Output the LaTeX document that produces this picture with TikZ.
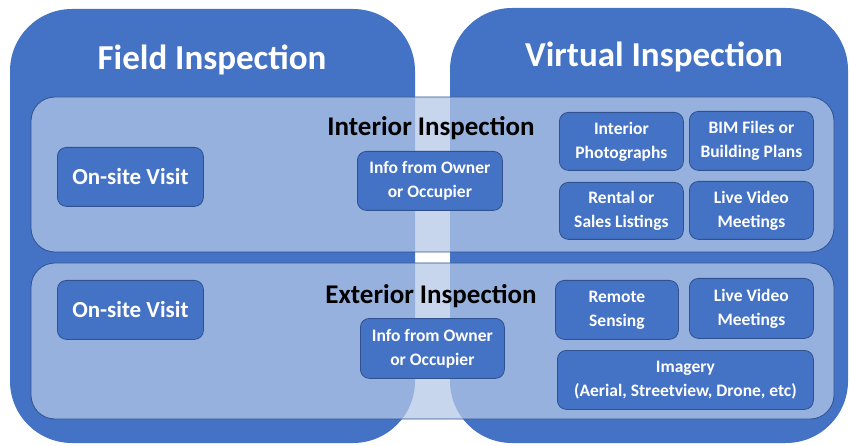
\documentclass[tikz,border=0pt]{standalone}
\usepackage{fontspec}
\setmainfont{Carlito}
\definecolor{mblue}{HTML}{4472C4}
\definecolor{dblue}{HTML}{2F528F}
\definecolor{lblue}{HTML}{B4C7E7}
\begin{document}
\begin{tikzpicture}[x=1pt,y=-1pt,
  big/.style={fill=mblue, draw=none, rounded corners=62pt, anchor=north west, inner sep=0pt, outer sep=0pt},
  band/.style={fill=lblue, fill opacity=0.75, draw=dblue, line width=0.8pt, rounded corners=24pt, anchor=north west, inner sep=0pt, outer sep=0pt},
  item/.style={fill=mblue, draw=dblue, line width=0.8pt, rounded corners=9pt, anchor=north west, inner sep=0pt, text=white, font=\bfseries\fontsize{17.5}{24}\selectfont, align=center},
  bigitem/.style={item, font=\bfseries\fontsize{23}{26}\selectfont},
  title/.style={text=white, font=\bfseries\fontsize{35}{40}\selectfont, inner sep=0pt},
  sub/.style={text=black, font=\bfseries\fontsize{27}{32}\selectfont, inner sep=0pt}
]
\useasboundingbox (0,0) rectangle (851,446);
\node[big, minimum width=405pt, minimum height=434pt] (field) at (10,9) {};
\node[big, minimum width=398pt, minimum height=435pt] (virtual) at (450,8) {};
\node[band, minimum width=803pt, minimum height=155pt] (interior) at (31,97) {};
\node[band, minimum width=803pt, minimum height=156pt] (exterior) at (31,263) {};
\node[title] (tfield) at (212,60) {Field Inspection};
\node[title] (tvirtual) at (654,57) {Virtual Inspection};
\node[sub] (tint) at (431,128) {Interior Inspection};
\node[sub] (text) at (431,296) {Exterior Inspection};
\node[bigitem, minimum width=146pt, minimum height=59pt] (onsite1) at (57,147) {On-site Visit};
\node[item, minimum width=145pt, minimum height=59pt] (info1) at (357,151) {Info from Owner\\or Occupier};
\node[item, minimum width=124pt, minimum height=58pt] (photo) at (559,112) {Interior\\Photographs};
\node[item, minimum width=124pt, minimum height=59pt] (bim) at (689,111) {BIM Files or\\Building Plans};
\node[item, minimum width=124pt, minimum height=57pt] (rental) at (559,182) {Rental or\\Sales Listings};
\node[item, minimum width=124pt, minimum height=58pt] (live1) at (689,181) {Live Video\\Meetings};
\node[bigitem, minimum width=146pt, minimum height=59pt] (onsite2) at (57,280) {On-site Visit};
\node[item, minimum width=144pt, minimum height=60pt] (info2) at (360,318) {Info from Owner\\or Occupier};
\node[item, minimum width=123pt, minimum height=59pt] (remote) at (555,280) {Remote\\Sensing};
\node[item, minimum width=124pt, minimum height=60pt] (live2) at (689,278) {Live Video\\Meetings};
\node[item, minimum width=256pt, minimum height=59pt] (imagery) at (557,350) {Imagery\\(Aerial, Streetview, Drone, etc)};
\end{tikzpicture}
\end{document}
